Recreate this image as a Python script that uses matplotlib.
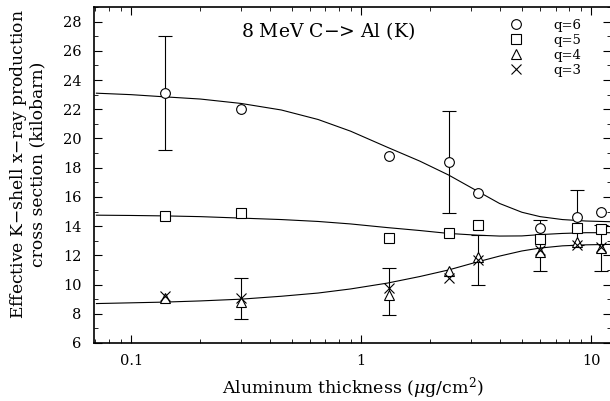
import matplotlib
matplotlib.use("Agg")
import matplotlib.pyplot as plt
import matplotlib.ticker as mticker

plt.rcParams['font.family'] = 'DejaVu Serif'
plt.rcParams['mathtext.fontset'] = 'dejavuserif'

# measured points (x in ug/cm2, y in kilobarn)
thick = [0.14, 0.30, 1.32, 2.41, 3.23, 6.0, 8.7, 11.0]
q6 = [23.1, 22.0, 18.8, 18.4, 16.3, 13.9, 14.6, 15.0]
q5 = [14.7, 14.9, 13.2, 13.5, 14.1, 13.1, 13.9, 13.8]
q4 = [9.1, 8.8, 9.3, 10.9, 11.9, 12.2, 12.9, 12.5]
q3 = [9.2, 9.1, 9.75, 10.45, 11.7, 12.4, 12.7, 12.6]

# error bars (x, centre, half width)
err_x = [0.14, 2.41, 8.7, 0.30, 1.32, 3.23, 6.0, 11.0]
err_y = [23.1, 18.4, 14.6, 9.05, 9.5, 11.7, 12.65, 12.5]
err_d = [3.9, 3.5, 1.9, 1.4, 1.6, 1.7, 1.75, 1.6]

# fitted curves
fit_x = [0.0707, 0.1, 0.14, 0.2, 0.3, 0.45, 0.65, 0.9, 1.3, 1.8, 2.4, 3.2,
         4.0, 5.0, 6.0, 7.5, 9.5, 12.2]
fit6 = [23.1, 23.0, 22.85, 22.7, 22.4, 21.95, 21.3, 20.5, 19.4, 18.45, 17.5, 16.4,
        15.55, 14.95, 14.65, 14.45, 14.35, 14.3]
fit5 = [14.75, 14.73, 14.7, 14.65, 14.55, 14.45, 14.32, 14.15, 13.9, 13.7, 13.5, 13.38,
        13.32, 13.33, 13.42, 13.5, 13.55, 13.55]
fit34 = [8.7, 8.75, 8.8, 8.88, 9.0, 9.2, 9.42, 9.7, 10.1, 10.55, 11.0, 11.55,
         11.95, 12.3, 12.5, 12.65, 12.72, 12.75]

fig = plt.figure(figsize=(6.1, 4.01), dpi=100)
ax = fig.add_axes([94/610, 1-343/401, (611-94)/610, (343-7)/401])

for fy in [fit6, fit5, fit34]:
    ax.plot(fit_x, fy, color='black', lw=0.8)

ax.errorbar(err_x, err_y, yerr=err_d, fmt='none', ecolor='black',
            elinewidth=0.8, capsize=5, capthick=0.8)

mk = dict(ls='none', mfc='white', mec='black', mew=0.8, ms=7)
ax.plot(thick, q6, marker='o', label='q=6', **mk)
ax.plot(thick, q5, marker='s', label='q=5', **mk)
ax.plot(thick, q4, marker='^', label='q=4', **mk)
ax.plot(thick, q3, marker='x', label='q=3', ls='none', color='black', mew=0.8, ms=7)

ax.set_xscale('log')
ax.set_xlim(0.069, 12.2)
ax.set_ylim(6, 29)
ax.yaxis.set_major_locator(mticker.MultipleLocator(2))
ax.yaxis.set_minor_locator(mticker.MultipleLocator(1))
ax.xaxis.set_major_formatter(mticker.FuncFormatter(lambda v, p: '%g' % v))
ax.tick_params(which='both', direction='in', top=True, right=True, labelsize=10.5)
ax.tick_params(which='major', length=6, width=0.8)
ax.tick_params(axis='y', which='major', pad=9)
ax.tick_params(axis='x', which='major', pad=8)
ax.tick_params(which='minor', length=3, width=0.6)
for s in ax.spines.values():
    s.set_linewidth(1.2)

ax.text(0.284, 0.91, '8 MeV C$-$> Al (K)', transform=ax.transAxes, fontsize=13.5,
        va='baseline')

ax.legend(loc='upper right', bbox_to_anchor=(0.965, 1.0), frameon=False, fontsize=9.5,
          handletextpad=2.3, labelspacing=0.15, handlelength=1.0, borderpad=0.4)

ax.set_xlabel('Aluminum thickness ($\\mu$g/cm$^2$)', fontsize=12.5)
ax.xaxis.set_label_coords(0.5, -0.095)
ax.set_ylabel('Effective K$-$shell x$-$ray production\ncross section (kilobarn)',
              fontsize=12.3, linespacing=1.0)
ax.yaxis.set_label_coords(-0.093, 0.533)

fig.savefig('out.png', dpi=100)
